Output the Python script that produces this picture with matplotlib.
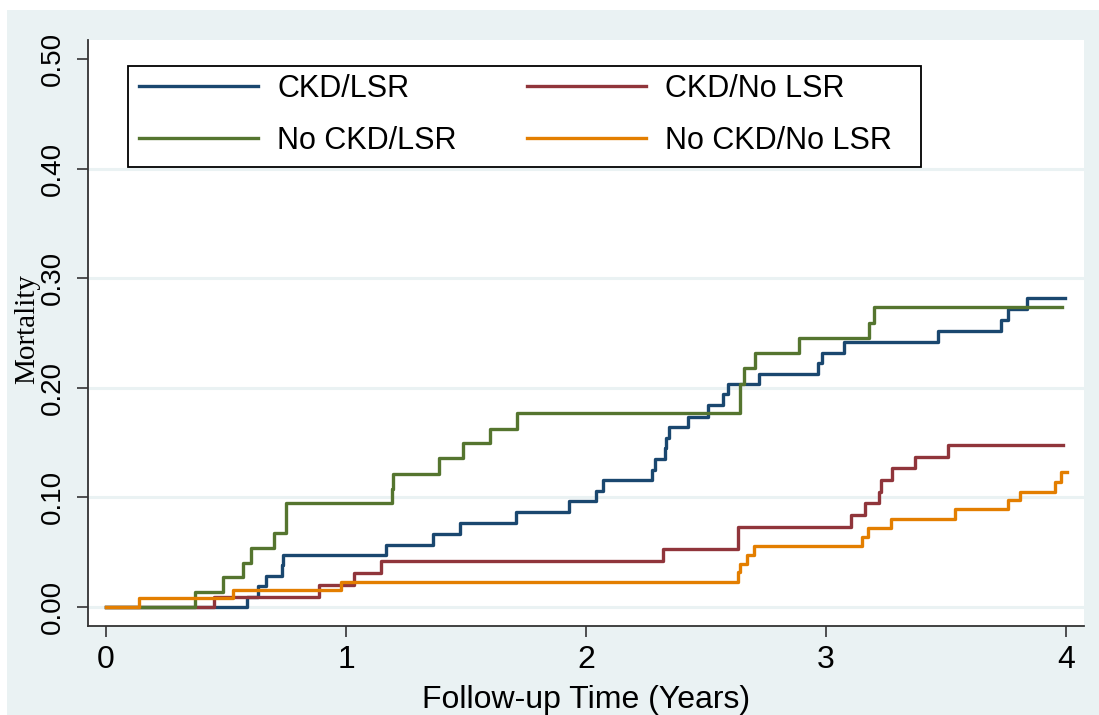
import matplotlib
matplotlib.use('Agg')
import matplotlib.pyplot as plt
from matplotlib.patches import Rectangle

# Kaplan-Meier type cumulative mortality
ckd_lsr_t = [0, 0.586, 0.632, 0.667, 0.733, 0.736, 1.165, 1.361, 1.477, 1.707, 1.928,
             2.042, 2.072, 2.274, 2.2875, 2.33, 2.333, 2.347, 2.426, 2.507, 2.572, 2.59,
             2.721, 2.968, 2.985, 3.077, 3.465, 3.729, 3.757, 3.836, 3.996]
ckd_lsr_y = [0, 0.0094, 0.019, 0.028, 0.0383, 0.0474, 0.0569, 0.0667, 0.0769, 0.0865, 0.0963,
             0.1058, 0.1157, 0.125, 0.135, 0.145, 0.154, 0.164, 0.1737, 0.1843, 0.194, 0.2035,
             0.2126, 0.2223, 0.232, 0.2417, 0.252, 0.2619, 0.2716, 0.2816, 0.2816]

ckd_nolsr_t = [0, 0.452, 0.8875, 1.032, 1.146, 2.32, 2.632, 3.104, 3.1625, 3.22, 3.23,
               3.276, 3.371, 3.51, 3.989]
ckd_nolsr_y = [0, 0.0094, 0.020, 0.0307, 0.0418, 0.0527, 0.0733, 0.0839, 0.0946, 0.1052, 0.1159,
               0.1265, 0.1366, 0.1478, 0.1478]

nockd_lsr_t = [0, 0.371, 0.486, 0.572, 0.604, 0.70, 0.75, 1.192, 1.196, 1.388, 1.489,
               1.60, 1.711, 2.642, 2.66, 2.704, 2.8875, 3.18, 3.20, 3.985]
nockd_lsr_y = [0, 0.0134, 0.0271, 0.0399, 0.0535, 0.0672, 0.0946, 0.108, 0.1213, 0.1357, 0.1494,
               0.1624, 0.1767, 0.2035, 0.2184, 0.2314, 0.2451, 0.2594, 0.2734, 0.2734]

nockd_nolsr_t = [0, 0.139, 0.53, 0.978, 2.632, 2.642, 2.67, 2.70, 3.149, 3.174, 3.271,
                 3.5375, 3.757, 3.808, 3.954, 3.979, 4.005]
nockd_nolsr_y = [0, 0.008, 0.0155, 0.0228, 0.0316, 0.0392, 0.0474, 0.0557, 0.0642, 0.0724, 0.0803,
                 0.0891, 0.0976, 0.1052, 0.1143, 0.1234, 0.1234]

x_ticks = [0, 1, 2, 3, 4]
y_ticks = [0.0, 0.1, 0.2, 0.3, 0.4, 0.5]

bg = '#eaf2f3'
navy = '#1a476f'
maroon = '#90353b'
green = '#55752f'
orange = '#e37e00'

W, H = 1099, 715
fig = plt.figure(figsize=(W / 100, H / 100), dpi=100, facecolor=bg)
# white strip left over from the page crop
fig.patches.append(Rectangle((0, 1 - 10 / H), 1, 10 / H, transform=fig.transFigure,
                             facecolor='white', edgecolor='none', zorder=0))
fig.patches.append(Rectangle((0, 0), 7 / W, 1, transform=fig.transFigure,
                             facecolor='white', edgecolor='none', zorder=0))

ax = fig.add_axes([88 / W, 1 - 626 / H, 996 / W, 586 / H])
ax.set_facecolor('white')

for v in y_ticks[:-1]:
    ax.axhline(v, color=bg, lw=2.2, zorder=1)

lw = 2.4
l1, = ax.step(ckd_lsr_t, ckd_lsr_y, where='post', color=navy, lw=lw, zorder=3)
l2, = ax.step(ckd_nolsr_t, ckd_nolsr_y, where='post', color=maroon, lw=lw, zorder=3)
l3, = ax.step(nockd_lsr_t, nockd_lsr_y, where='post', color=green, lw=lw, zorder=3)
l4, = ax.step(nockd_nolsr_t, nockd_nolsr_y, where='post', color=orange, lw=lw, zorder=3)

ax.set_xlim(-0.075, 4.075)
ax.set_ylim(-0.0173, 0.5173)

ax.set_xticks(x_ticks)
ax.set_xticklabels([str(v) for v in x_ticks], fontsize=23, family='Liberation Sans')
ax.set_yticks(y_ticks)
ax.set_yticklabels(['%.2f' % v for v in y_ticks], fontsize=20, family='Liberation Sans',
                   rotation=90, va='center')
ax.tick_params(axis='x', length=8, width=1.2, pad=6, color='#333333')
ax.tick_params(axis='y', length=8, width=1.2, pad=8, color='#333333')

for s in ['top', 'right']:
    ax.spines[s].set_visible(False)
for s in ['left', 'bottom']:
    ax.spines[s].set_linewidth(1.3)
    ax.spines[s].set_color('#333333')

ax.set_xlabel('Follow-up Time (Years)', fontsize=23, family='Liberation Sans', labelpad=7)
fig.text(27 / W, 1 - 329 / H, 'Mortality', rotation=90, fontsize=21,
         family='Liberation Serif', ha='center', va='center')

# legend box drawn separately so its size matches the original
fig.patches.append(Rectangle((128 / W, 1 - 167 / H), (921 - 128) / W, (167 - 66) / H,
                             transform=fig.transFigure, facecolor='white',
                             edgecolor='black', lw=1.3, zorder=4))
leg = fig.legend([l1, l3, l2, l4], ['CKD/LSR', 'No CKD/LSR', 'CKD/No LSR', 'No CKD/No LSR'],
                 ncol=2, loc='upper left', bbox_to_anchor=(139 / W, 1 - 74 / H),
                 bbox_transform=fig.transFigure, borderaxespad=0, borderpad=0,
                 prop={'family': 'Liberation Sans', 'size': 22},
                 handlelength=3.9, handletextpad=0.62, columnspacing=2.3,
                 labelspacing=0.72, frameon=False)
leg.set_zorder(5)
for h in leg.get_lines():
    h.set_linewidth(2.4)

fig.savefig('out.png', dpi=100, facecolor=bg)
